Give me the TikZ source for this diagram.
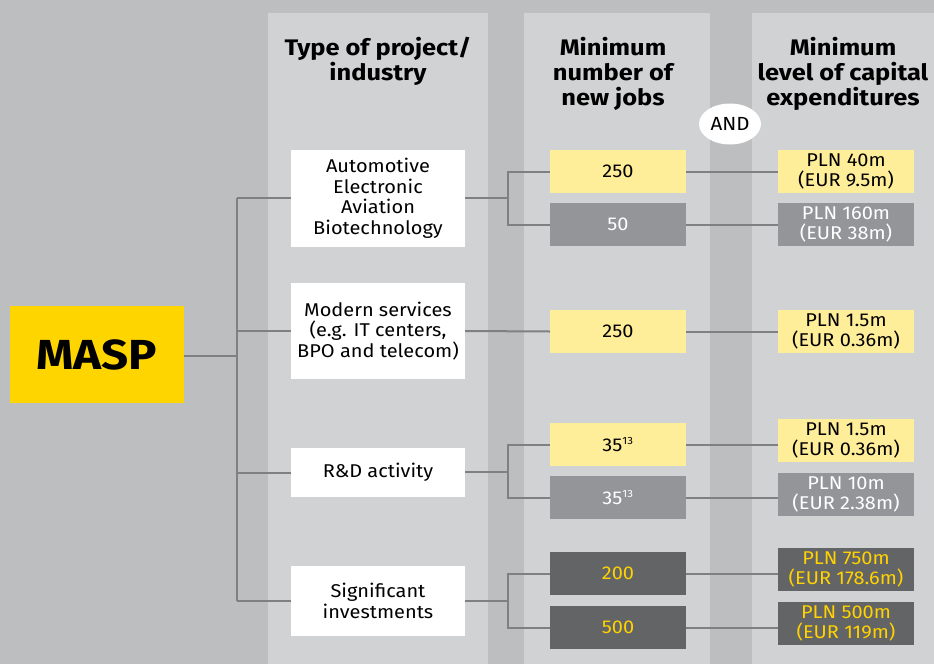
\documentclass[tikz,border=0pt]{standalone}
\usepackage{fontspec}
\setmainfont{Fira Sans}[FakeStretch=1.08]
\newfontfamily\headfont{Fira Sans}[FakeStretch=1.13]
\usetikzlibrary{shapes.geometric}
\definecolor{bgc}{HTML}{BDBEC0}
\definecolor{colc}{HTML}{D1D2D4}
\definecolor{masp}{HTML}{FFD500}
\definecolor{lyel}{HTML}{FFEE99}
\definecolor{mgray}{HTML}{939598}
\definecolor{dgray}{HTML}{636466}
\definecolor{ytxt}{HTML}{FFD200}
\definecolor{linec}{HTML}{7F8082}
\tikzset{
  every node/.style={inner sep=0pt, outer sep=0pt},
  conn/.style={draw=linec, line width=2pt},
  head/.style={font=\headfont\bfseries\fontsize{22.5}{25}\selectfont, align=center, text=black},
  indbox/.style={fill=white, minimum width=174pt, align=center, font=\fontsize{18.5}{20.5}\selectfont},
  valbox/.style={minimum width=136pt, minimum height=43pt, align=center, font=\fontsize{18.5}{20.5}\selectfont},
  ylw/.style={valbox, fill=lyel, text=black},
  gry/.style={valbox, fill=mgray, text=white},
  drk/.style={valbox, fill=dgray, text=ytxt},
}
\newcommand{\supx}[1]{\textsuperscript{\fontsize{10.5}{10.5}\selectfont #1}}
\begin{document}
\begin{tikzpicture}[x=1pt,y=-1pt]
\useasboundingbox (0,0) rectangle (934,664);
\fill[bgc] (0,0) rectangle (934,664);
\fill[colc] (268,13) rectangle (488,664);
\fill[colc] (524,13) rectangle (710,664);
\fill[colc] (752,13) rectangle (934,664);
% headers
\node[head] (h1) at (378,61) {Type of project/\\industry};
\node[head] (h2) at (613,73.5) {Minimum\\number of\\new jobs};
\node[head] (h3) at (843,73.5) {Minimum\\level of capital\\expenditures};
\node[ellipse, fill=white, minimum width=62pt, minimum height=41pt, font=\fontsize{19}{20}\selectfont] (and) at (730,124) {AND};
% MASP
\node[fill=masp, minimum width=174pt, minimum height=97pt, font=\headfont\bfseries\fontsize{42}{42}\selectfont] (masp) at (97,354.5) {MASP};
% industry boxes
\node[indbox, minimum height=97pt] (i1) at (378,198.5) {Automotive\\Electronic\\Aviation\\Biotechnology};
\node[indbox, minimum height=96pt] (i2) at (378,331) {Modern services\\(e.g. IT centers,\\BPO and telecom)};
\node[indbox, minimum height=49pt] (i3) at (378,472.5) {R\&D activity};
\node[indbox, minimum height=70pt] (i4) at (378,601) {Significant\\investments};
% jobs
\node[ylw] (j1a) at (618,171.5) {250};
\node[gry] (j1b) at (618,224.5) {50};
\node[ylw] (j2) at (618,331.5) {250};
\node[ylw] (j3a) at (618,444.5) {35\supx{13}};
\node[gry] (j3b) at (618,497.5) {35\supx{13}};
\node[drk] (j4a) at (618,573.5) {200};
\node[drk] (j4b) at (618,627.5) {500};
% capex
\node[ylw] (c1a) at (846,171.5) {PLN 40m\\(EUR 9.5m)};
\node[gry] (c1b) at (846,224.5) {PLN 160m\\(EUR 38m)};
\node[ylw] (c2) at (846,331.5) {PLN 1.5m\\(EUR 0.36m)};
\node[ylw] (c3a) at (846,440.5) {PLN 1.5m\\(EUR 0.36m)};
\node[gry] (c3b) at (846,494.5) {PLN 10m\\(EUR 2.38m)};
\node[drk] (c4a) at (846,569.5) {PLN 750m\\(EUR 178.6m)};
\node[drk] (c4b) at (846,623.5) {PLN 500m\\(EUR 119m)};
% trunk
\coordinate (tr) at (237,356);
\coordinate (trt) at (237,198);
\coordinate (trb) at (237,601);
\draw[conn] (masp.east |- tr) -- (tr);
\draw[conn] (trt) -- (trb);
\draw[conn] (trt) -- (i1.west |- trt);
\draw[conn] (tr |- i2.west) -- (i2.west);
\draw[conn] (tr |- i3.west) -- (i3.west);
\draw[conn] (trb) -- (i4.west |- trb);
% branches
\coordinate (b1) at (508,198);
\coordinate (b3) at (508,472);
\coordinate (b4) at (508,601);
\draw[conn] (i1.east |- b1) -- (b1);
\draw[conn] (j1a.west) -| (b1) |- (j1b.west);
\draw[conn] (i2.east) -- (j2.west);
\draw[conn] (i3.east |- b3) -- (b3);
\draw[conn] (j3a.west) -| (b3) |- (j3b.west);
\draw[conn] (i4.east |- b4) -- (b4);
\draw[conn] (j4a.west) -| (b4) |- (j4b.west);
% to capex
\draw[conn] (j1a.east) -- (c1a.west);
\draw[conn] (j1b.east) -- (c1b.west);
\draw[conn] (j2.east) -- (c2.west);
\draw[conn] (j3a.east) -- (j3a.east -| c3a.west);
\draw[conn] (j3b.east) -- (j3b.east -| c3b.west);
\draw[conn] (j4a.east) -- (j4a.east -| c4a.west);
\draw[conn] (j4b.east) -- (j4b.east -| c4b.west);
\end{tikzpicture}
\end{document}
